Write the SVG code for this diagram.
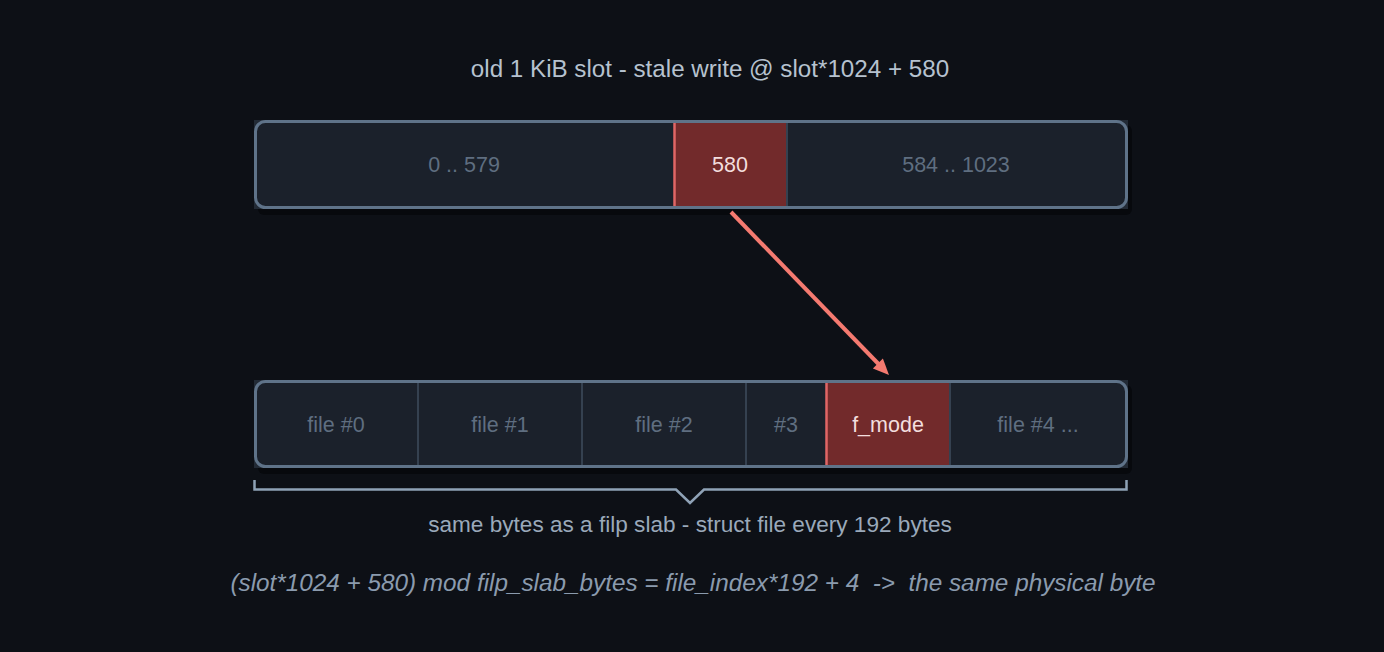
<svg xmlns="http://www.w3.org/2000/svg" width="1384" height="652" viewBox="0 0 1384 652">
<defs>
<style>
text{font-family:"Liberation Sans",Arial,sans-serif;}
.under{fill:#222a35;}
.shadow{fill:#06080b;opacity:0.8;}
.cell{fill:#1b212b;}
.hot{fill:#722a2b;}
.div{stroke:#354150;stroke-width:2;}
.hotedge{stroke:#e06666;stroke-width:2.5;}
.border{fill:none;stroke:#5f7389;stroke-width:3;}
.lbl{font-size:21.5px;fill:#5f6e80;text-anchor:middle;}
.hotlbl{font-size:21.5px;fill:#f3dede;text-anchor:middle;}
.title{font-size:24.2px;fill:#b6c2cf;text-anchor:middle;}
.cap{font-size:22.6px;fill:#9aa9ba;text-anchor:middle;}
.formula{font-size:24.3px;fill:#8b9bae;text-anchor:middle;font-style:italic;white-space:pre;}
.arrow{stroke:#f47a70;stroke-width:4;}
.head{fill:#f47a70;}
</style>
</defs>
<rect x="0" y="0" width="1384" height="652" fill="#0d1016"/>
<text class="title" x="710" y="77">old 1 KiB slot - stale write @ slot*1024 + 580</text>

<g id="slot">
<rect class="shadow" x="258" y="125" width="874" height="90" rx="6"/>
<rect class="under" x="254" y="120" width="874" height="89"/>
<rect class="cell" x="256" y="122" width="418" height="85" rx="9"/>
<rect class="hot" x="674" y="122" width="113" height="85"/>
<rect class="cell" x="787" y="122" width="339" height="85" rx="9"/>
<rect class="cell" x="660" y="122" width="14" height="85"/>
<rect class="cell" x="787" y="122" width="14" height="85"/>
<line class="div" x1="787" y1="121" x2="787" y2="208"/>
<line class="hotedge" x1="674.5" y1="121" x2="674.5" y2="208"/>
<rect class="border" x="255.5" y="121.5" width="871" height="86" rx="10"/>
<text class="lbl" x="464" y="172">0 .. 579</text>
<text class="hotlbl" x="730" y="172">580</text>
<text class="lbl" x="956" y="172">584 .. 1023</text>
</g>

<g id="slab">
<rect class="shadow" x="258" y="385" width="874" height="89" rx="6"/>
<rect class="under" x="254" y="380" width="874" height="88"/>
<rect class="cell" x="256" y="382" width="570" height="84" rx="9"/>
<rect class="cell" x="400" y="382" width="426" height="84"/>
<rect class="hot" x="826" y="382" width="124" height="84"/>
<rect class="cell" x="950" y="382" width="176" height="84" rx="9"/>
<rect class="cell" x="950" y="382" width="20" height="84"/>
<line class="div" x1="418" y1="381" x2="418" y2="467"/>
<line class="div" x1="582" y1="381" x2="582" y2="467"/>
<line class="div" x1="746" y1="381" x2="746" y2="467"/>
<line class="div" x1="950" y1="381" x2="950" y2="467"/>
<line class="hotedge" x1="826.5" y1="381" x2="826.5" y2="467"/>
<rect class="border" x="255.5" y="381.5" width="871" height="85" rx="10"/>
<text class="lbl" x="336" y="432">file #0</text>
<text class="lbl" x="500" y="432">file #1</text>
<text class="lbl" x="664" y="432">file #2</text>
<text class="lbl" x="786" y="432">#3</text>
<text class="hotlbl" x="888" y="432">f_mode</text>
<text class="lbl" x="1038" y="432">file #4 ...</text>
</g>

<g id="brace">
<path d="M254.5,480 V489.5 H676 L690,503 L704,489.5 H1126.5 V480" fill="none" stroke="#8fa2b6" stroke-width="2.5"/>
<text class="cap" x="690" y="532">same bytes as a filp slab - struct file every 192 bytes</text>
</g>

<g id="connectors">
<line class="arrow" x1="731" y1="212" x2="879" y2="364.5"/>
<polygon class="head" points="889,375 872.9,368.4 882.9,358.6"/>
</g>

<text class="formula" x="693" y="591" xml:space="preserve">(slot*1024 + 580) mod filp_slab_bytes = file_index*192 + 4  -&gt;  the same physical byte</text>
</svg>
